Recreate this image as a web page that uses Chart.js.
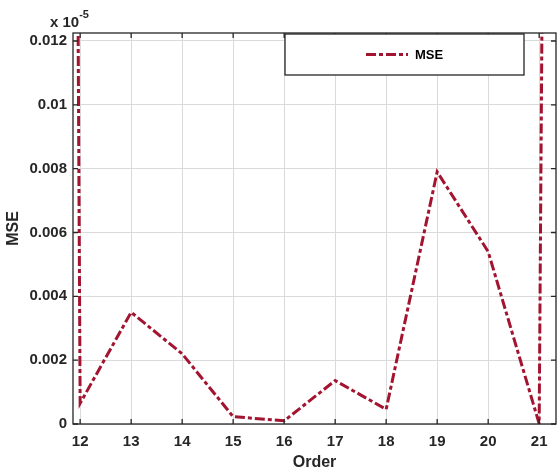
<!DOCTYPE html>
<html>
<head>
<meta charset="utf-8">
<script src="https://cdn.jsdelivr.net/npm/chart.js@4.4.0/dist/chart.umd.min.js"></script>
<style>
  body { margin: 0; background: #fff; }
  canvas { display: block; }
</style>
</head>
<body>
<canvas id="mseChart" width="558" height="472"></canvas>
<script>
// model order vs. mean squared error
const orders = [11, 12, 13, 14, 15, 16, 17, 18, 19, 20, 21, 22];
const mseValues = [0.296, 0.00065, 0.0035, 0.0022, 0.00023, 0.0001, 0.00136, 0.00046, 0.0079, 0.0054, 0.00001, 0.23];

const xLimits = [11.86, 21.33];
const yLimits = [0, 0.01225];
const xTickValues = [12, 13, 14, 15, 16, 17, 18, 19, 20, 21];
const yTickValues = [0, 0.002, 0.004, 0.006, 0.008, 0.01, 0.012];
const yTickLabels = ['0', '0.002', '0.004', '0.006', '0.008', '0.01', '0.012'];

const FONT = '"Liberation Sans", Arial, sans-serif';
const INK = '#262626';
const LINE_COLOR = '#A2142F';
const LINE_DASH = [10, 3, 4, 3];

// box around the axes, inward ticks, exponent note and legend
const axesDecor = {
    id: 'axesDecor',
    afterDraw(chart) {
        const { ctx, chartArea: a, scales: { x, y } } = chart;
        ctx.save();
        ctx.strokeStyle = INK;
        ctx.lineWidth = 1.3;
        ctx.strokeRect(a.left, a.top, a.right - a.left, a.bottom - a.top);

        ctx.beginPath();
        xTickValues.forEach(v => {
            const px = x.getPixelForValue(v);
            ctx.moveTo(px, a.bottom); ctx.lineTo(px, a.bottom - 5);
            ctx.moveTo(px, a.top); ctx.lineTo(px, a.top + 5);
        });
        yTickValues.forEach(v => {
            const py = y.getPixelForValue(v);
            ctx.moveTo(a.left, py); ctx.lineTo(a.left + 5, py);
            ctx.moveTo(a.right, py); ctx.lineTo(a.right - 5, py);
        });
        ctx.stroke();

        // exponent label
        ctx.fillStyle = INK;
        ctx.textAlign = 'left';
        ctx.textBaseline = 'alphabetic';
        ctx.font = 'bold 15px ' + FONT;
        ctx.fillText('x 10', 50, 27);
        const w = ctx.measureText('x 10').width;
        ctx.font = 'bold 11px ' + FONT;
        ctx.fillText('-5', 50 + w, 18);

        // legend
        const lx = 285, ly = 34, lw = 239, lh = 41;
        ctx.fillStyle = '#fff';
        ctx.fillRect(lx, ly, lw, lh);
        ctx.strokeStyle = INK;
        ctx.lineWidth = 1.3;
        ctx.strokeRect(lx, ly, lw, lh);
        const ds = chart.data.datasets[0];
        ctx.strokeStyle = ds.borderColor;
        ctx.lineWidth = ds.borderWidth;
        ctx.setLineDash(ds.borderDash);
        ctx.beginPath();
        ctx.moveTo(366, ly + lh / 2);
        ctx.lineTo(408, ly + lh / 2);
        ctx.stroke();
        ctx.setLineDash([]);
        ctx.fillStyle = '#000';
        ctx.font = 'bold 13px ' + FONT;
        ctx.textBaseline = 'middle';
        ctx.fillText(ds.label, 415, ly + lh / 2 + 1);
        ctx.restore();
    }
};

new Chart(document.getElementById('mseChart'), {
    type: 'line',
    data: {
        datasets: [{
            label: 'MSE',
            data: orders.map((o, i) => ({ x: o, y: mseValues[i] })),
            borderColor: LINE_COLOR,
            borderWidth: 3,
            borderDash: LINE_DASH,
            pointRadius: 0,
            tension: 0,
            fill: false
        }]
    },
    options: {
        responsive: false,
        animation: false,
        layout: { padding: { top: 33, right: 2, left: 0, bottom: 0 } },
        plugins: {
            legend: { display: false },
            tooltip: { enabled: false }
        },
        scales: {
            x: {
                type: 'linear',
                min: xLimits[0],
                max: xLimits[1],
                afterBuildTicks: s => { s.ticks = xTickValues.map(v => ({ value: v })); },
                afterFit: s => { s.height = 48; },
                grid: { color: '#dadada', lineWidth: 1, drawTicks: false },
                border: { display: false },
                ticks: {
                    color: INK,
                    padding: 9,
                    maxRotation: 0,
                    autoSkip: false,
                    font: { family: FONT, size: 15, weight: 'bold' },
                    callback: v => String(v)
                },
                title: {
                    display: true,
                    text: 'Order',
                    color: INK,
                    padding: { top: 0, bottom: 0 },
                    font: { family: FONT, size: 16, weight: 'bold' }
                }
            },
            y: {
                type: 'linear',
                min: yLimits[0],
                max: yLimits[1],
                afterBuildTicks: s => { s.ticks = yTickValues.map(v => ({ value: v })); },
                afterFit: s => { s.width = 73; },
                grid: { color: '#dadada', lineWidth: 1, drawTicks: false },
                border: { display: false },
                ticks: {
                    color: INK,
                    padding: 6,
                    autoSkip: false,
                    font: { family: FONT, size: 15, weight: 'bold' },
                    callback: (v, i) => yTickLabels[i]
                },
                title: {
                    display: true,
                    text: 'MSE',
                    color: INK,
                    padding: { top: 4, bottom: 0 },
                    font: { family: FONT, size: 16, weight: 'bold' }
                }
            }
        }
    },
    plugins: [axesDecor]
});
</script>
</body>
</html>
